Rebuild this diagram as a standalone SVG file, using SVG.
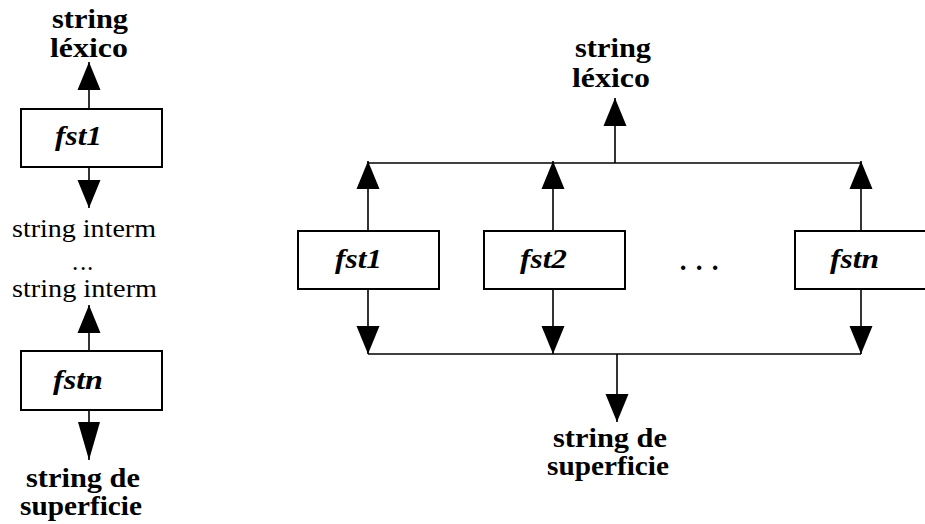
<svg xmlns="http://www.w3.org/2000/svg" width="925" height="524" viewBox="0 0 925 524">
<style>
  .box { fill: #fff; stroke: #000; stroke-width: 2; }
  .ln { fill: none; stroke: #000; stroke-width: 1.6; }
  .bold { font-family: "Liberation Serif", "Times New Roman", serif; font-weight: bold; font-size: 27px; fill: #000; }
  .reg { font-family: "Liberation Serif", "Times New Roman", serif; font-size: 25px; fill: #000; }
  .lbl { font-family: "Liberation Serif", "Times New Roman", serif; font-weight: bold; font-style: italic; font-size: 27px; fill: #000; }
</style>
<defs>
  <marker id="ah" markerWidth="30" markerHeight="26" refX="28" refY="12" orient="auto" markerUnits="userSpaceOnUse">
    <path d="M0,0.5 L28,12 L0,23.5 Z" fill="#000"/>
  </marker>
  <marker id="ahl" markerWidth="40" markerHeight="26" refX="38" refY="12" orient="auto" markerUnits="userSpaceOnUse">
    <path d="M0,1 L38,12 L0,23 Z" fill="#000"/>
  </marker>
</defs>
<rect width="925" height="524" fill="#fff"/>

<g id="connectors">
  <line class="ln" x1="89" y1="109" x2="89" y2="62" marker-end="url(#ah)"/>
  <line class="ln" x1="89" y1="167" x2="89" y2="208" marker-end="url(#ah)"/>
  <line class="ln" x1="89" y1="351" x2="89" y2="305" marker-end="url(#ah)"/>
  <line class="ln" x1="89" y1="410" x2="89" y2="460" marker-end="url(#ahl)"/>
  <line class="ln" x1="615" y1="163" x2="615" y2="98" marker-end="url(#ah)"/>
  <line class="ln" x1="368" y1="163" x2="861" y2="163"/>
  <line class="ln" x1="368" y1="231" x2="368" y2="161" marker-end="url(#ah)"/>
  <line class="ln" x1="553" y1="231" x2="553" y2="161" marker-end="url(#ah)"/>
  <line class="ln" x1="861" y1="231" x2="861" y2="161" marker-end="url(#ah)"/>
  <line class="ln" x1="368" y1="289" x2="368" y2="354" marker-end="url(#ah)"/>
  <line class="ln" x1="553" y1="289" x2="553" y2="354" marker-end="url(#ah)"/>
  <line class="ln" x1="861" y1="289" x2="861" y2="354" marker-end="url(#ah)"/>
  <line class="ln" x1="368" y1="354" x2="861" y2="354"/>
  <line class="ln" x1="617" y1="354" x2="617" y2="422" marker-end="url(#ah)"/>
</g>

<g id="l-lexico">
  <text class="bold" x="52" y="28" textLength="76" lengthAdjust="spacingAndGlyphs">string</text>
  <text class="bold" x="50" y="57" textLength="78" lengthAdjust="spacingAndGlyphs">léxico</text>
</g>
<g id="l-fst1">
  <rect class="box" x="21" y="109" width="141" height="58"/>
  <text class="lbl" x="55" y="145" textLength="47" lengthAdjust="spacingAndGlyphs">fst1</text>
</g>
<g id="l-interm">
  <text class="reg" x="12" y="237" textLength="144" lengthAdjust="spacingAndGlyphs">string interm</text>
  <text class="reg" x="75 83 90" y="270" text-anchor="middle">...</text>
  <text class="reg" x="12" y="297" textLength="145" lengthAdjust="spacingAndGlyphs">string interm</text>
</g>
<g id="l-fstn">
  <rect class="box" x="21" y="351" width="141" height="59"/>
  <text class="lbl" x="53" y="389" textLength="50" lengthAdjust="spacingAndGlyphs">fstn</text>
</g>
<g id="l-superficie">
  <text class="bold" x="26" y="487" textLength="114" lengthAdjust="spacingAndGlyphs">string de</text>
  <text class="bold" x="20" y="515" textLength="122" lengthAdjust="spacingAndGlyphs">superficie</text>
</g>

<g id="r-lexico">
  <text class="bold" x="575" y="57" textLength="76" lengthAdjust="spacingAndGlyphs">string</text>
  <text class="bold" x="572" y="87" textLength="78" lengthAdjust="spacingAndGlyphs">léxico</text>
</g>
<g id="r-fst1">
  <rect class="box" x="298" y="231" width="141" height="58"/>
  <text class="lbl" x="335" y="268" textLength="47" lengthAdjust="spacingAndGlyphs">fst1</text>
</g>
<g id="r-fst2">
  <rect class="box" x="484" y="231" width="141" height="58"/>
  <text class="lbl" x="520" y="268" textLength="47" lengthAdjust="spacingAndGlyphs">fst2</text>
</g>
<g id="r-dots">
  <text class="bold" x="683 699 715" y="270" text-anchor="middle">...</text>
</g>
<g id="r-fstn">
  <rect class="box" x="795" y="231" width="141" height="58"/>
  <text class="lbl" x="830" y="268" textLength="49" lengthAdjust="spacingAndGlyphs">fstn</text>
</g>
<g id="r-superficie">
  <text class="bold" x="553" y="447" textLength="114" lengthAdjust="spacingAndGlyphs">string de</text>
  <text class="bold" x="547" y="475" textLength="122" lengthAdjust="spacingAndGlyphs">superficie</text>
</g>
</svg>
